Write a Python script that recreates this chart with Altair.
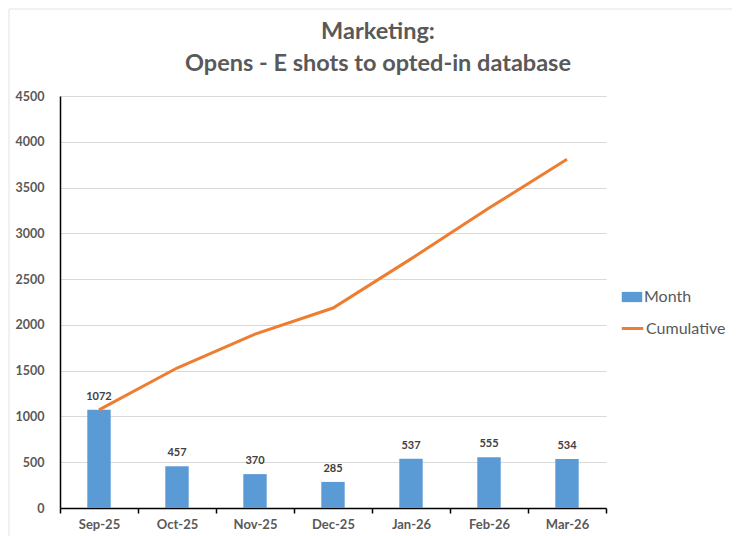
import altair as alt
import pandas as pd

months = ["Sep-25", "Oct-25", "Nov-25", "Dec-25", "Jan-26", "Feb-26", "Mar-26"]
month_vals = [1072, 457, 370, 285, 537, 555, 534]
cumulative = [1072, 1529, 1899, 2184, 2721, 3276, 3810]
y_ticks = [0, 500, 1000, 1500, 2000, 2500, 3000, 3500, 4000, 4500]

df = pd.DataFrame({
    "month": months,
    "value": month_vals,
    "cum": cumulative,
    "s1": ["Month"] * len(months),
    "s2": ["Cumulative"] * len(months),
})

FONT = "Lato"
GRAY = "#595959"

x = alt.X("month:N", sort=months, title=None,
          scale=alt.Scale(paddingInner=0, paddingOuter=0),
          axis=alt.Axis(tickBand="extent", labelAngle=0, labelFont=FONT,
                        labelFontSize=13, labelFontWeight="bold", labelColor=GRAY,
                        domainColor="#000000", domainWidth=1.5, tickColor="#000000",
                        tickWidth=1.5, tickSize=5, labelPadding=5, grid=False))
y_axis = alt.Axis(values=y_ticks, format="d", title=None, labelFont=FONT, labelFontSize=12.5,
                  labelFontWeight="bold", labelColor=GRAY, domainColor="#000000",
                  domainWidth=1.5, ticks=False, labelPadding=16, gridColor="#d9d9d9",
                  gridWidth=1)
yscale = alt.Scale(domain=[0, 4500], nice=False)

base = alt.Chart(df)

frame = alt.Chart(pd.DataFrame({"a": [0]})).mark_rect(
    fill="transparent", stroke="#e3e3e3", strokeWidth=1
).encode(x=alt.value(-51), x2=alt.value(690), y=alt.value(-87), y2=alt.value(460))

bars = base.mark_bar(width=alt.RelativeBandSize(0.3)).encode(
    x=x,
    y=alt.Y("value:Q", scale=yscale, axis=y_axis),
    fill=alt.Fill("s1:N", scale=alt.Scale(domain=["Month"], range=["#5B9BD5"]),
                  legend=alt.Legend(title=None, orient="none", legendX=561, legendY=190,
                                    symbolType="M-1,-0.5H1V0.5H-1Z", symbolSize=420,
                                    labelFont=FONT, labelFontSize=16, labelColor=GRAY,
                                    labelOffset=1, padding=0)),
)

labels = base.mark_text(dy=-8, font=FONT, fontSize=11, fontWeight="bold",
                        color="#404040", baseline="bottom").encode(
    x=alt.X("month:N", sort=months),
    y=alt.Y("value:Q", scale=yscale),
    text=alt.Text("value:Q"),
)

line = base.mark_line(strokeWidth=3).encode(
    x=alt.X("month:N", sort=months),
    y=alt.Y("cum:Q", scale=yscale),
    stroke=alt.Stroke("s2:N", scale=alt.Scale(domain=["Cumulative"], range=["#ED7D31"]),
                      legend=alt.Legend(title=None, orient="none", legendX=560, legendY=220,
                                        symbolType="stroke", symbolSize=460,
                                        symbolStrokeWidth=3,
                                        labelFont=FONT, labelFontSize=16, labelColor=GRAY,
                                        labelOffset=1, padding=0)),
)

chart = alt.layer(frame, bars, labels, line).resolve_scale(
    fill="independent", stroke="independent"
).properties(
    width=546,
    height=412,
    autosize="none",
    padding={"left": 52, "top": 88, "right": 126, "bottom": 28},
    title=alt.TitleParams(
        text=["Marketing:", "Opens - E shots to opted-in database"],
        font=FONT, fontSize=23.5, fontWeight="bold", color=GRAY,
        anchor="middle", dx=45, offset=-67, lineHeight=32,
    ),
).configure_view(stroke=None)

chart.save("out.html", embed_options={"renderer": "svg", "actions": False})
